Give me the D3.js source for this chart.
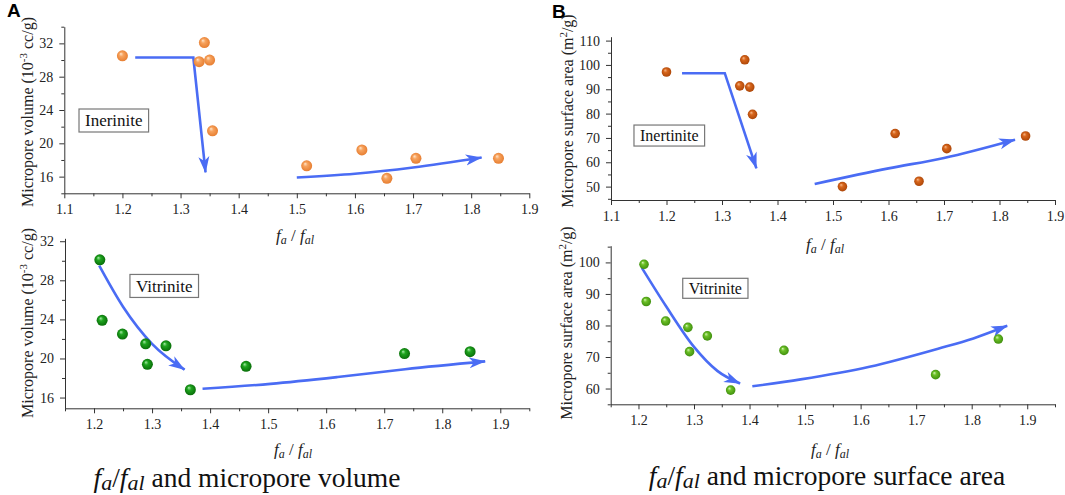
<!DOCTYPE html>
<html>
<head>
<meta charset="utf-8">
<script src="https://cdn.jsdelivr.net/npm/d3@7"></script>
<style>
  body { margin: 0; background: #fff; }
  svg { display: block; }
</style>
</head>
<body>
<script>
// fa/fal of the samples (inertinite rows share one set, vitrinite the other)
const faInertinite = [1.2, 1.341, 1.332, 1.350, 1.355, 1.517, 1.612, 1.655, 1.705, 1.847];
const faVitrinite = [1.21, 1.214, 1.249, 1.289, 1.292, 1.324, 1.366, 1.462, 1.735, 1.848];

// micropore volume, 10^-3 cc/g
const volInertinite = [30.5, 32.1, 29.8, 30.0, 21.5, 17.3, 19.2, 15.8, 18.2, 18.2];
const volVitrinite = [30.1, 23.9, 22.5, 21.5, 19.4, 21.3, 16.8, 19.2, 20.5, 20.7];

// micropore surface area, m2/g
const areaInertinite = [97.1, 102.1, 91.4, 90.9, 79.7, 50.0, 71.8, 52.2, 65.6, 70.8];
const areaVitrinite = [99.4, 87.6, 81.4, 79.4, 71.7, 76.7, 59.5, 72.1, 64.4, 75.7];

// tick labels
const xTicksTop = [1.1, 1.2, 1.3, 1.4, 1.5, 1.6, 1.7, 1.8, 1.9];
const xTicksBottom = [1.2, 1.3, 1.4, 1.5, 1.6, 1.7, 1.8, 1.9];
const volTicks = [16, 20, 24, 28, 32];
const areaTicksTop = [50, 60, 70, 80, 90, 100, 110];
const areaTicksBottom = [60, 70, 80, 90, 100];

// trend arrows, in data units
const arrowVolI1 = [[1.222, 30.3], [1.322, 30.3], [1.343, 16.5]];
const arrowVolI2 = [[1.5, 15.9], [1.6, 16.35], [1.7, 17.1], [1.818, 18.3]];
const arrowAreaI1 = [[1.228, 96.6], [1.305, 96.6], [1.362, 57.5]];
const arrowAreaI2 = [[1.467, 51.1], [1.6, 57.5], [1.7, 61.8], [1.828, 69.3]];
const arrowVolV1 = [[1.209, 29.5], [1.25, 25.3], [1.30, 21.5], [1.356, 18.85]];
const arrowVolV2 = [[1.387, 16.9], [1.504, 17.4], [1.62, 18.1], [1.736, 18.9], [1.874, 19.7]];
const arrowAreaV1 = [[1.206, 98.3], [1.25, 86.0], [1.30, 73.2], [1.342, 65.6], [1.383, 61.6]];
const arrowAreaV2 = [[1.405, 60.7], [1.492, 62.9], [1.616, 66.9], [1.741, 72.7], [1.803, 75.9], [1.864, 79.9]];

const width = 1065;
const height = 495;
const arrowColor = "#4a6cf4";
const axisColor = "#333";
const serif = "'Liberation Serif', 'Times New Roman', serif";

const svg = d3.select("body")
  .append("svg")
  .attr("width", width)
  .attr("height", height)
  .attr("font-family", serif);

const defs = svg.append("defs");

// arrow head
defs.append("marker")
  .attr("id", "head")
  .attr("markerUnits", "userSpaceOnUse")
  .attr("markerWidth", 17)
  .attr("markerHeight", 12)
  .attr("viewBox", "0 0 17 12")
  .attr("refX", 16)
  .attr("refY", 6)
  .attr("orient", "auto")
  .append("path")
  .attr("d", "M0,0.5 L16.5,6 L0,11.5 L4.5,6 Z")
  .attr("fill", arrowColor);

// shaded ball markers
function ballGradient(id, light, mid, dark) {
  const gr = defs.append("radialGradient")
    .attr("id", id)
    .attr("cx", "50%").attr("cy", "50%").attr("r", "55%")
    .attr("fx", "35%").attr("fy", "30%");
  gr.append("stop").attr("offset", "0%").attr("stop-color", light);
  gr.append("stop").attr("offset", "35%").attr("stop-color", mid);
  gr.append("stop").attr("offset", "100%").attr("stop-color", dark);
}
ballGradient("orange", "#ffe6cc", "#f7a35e", "#e57a2c");
ballGradient("rust", "#f6b98a", "#d8661c", "#a84306");
ballGradient("green", "#a8eaa8", "#1fa51f", "#066806");
ballGradient("lime", "#d6f5b8", "#6cc026", "#3b8a0c");

function drawPanel(p) {
  const x = d3.scaleLinear().domain(p.xDomain).range(p.xRange);
  const y = d3.scaleLinear().domain(p.yDomain).range(p.yRange);
  const g = svg.append("g");

  const xMinor = d3.range(p.xDomain[0], p.xDomain[1] + 1e-9, 0.05)
    .filter(v => !p.xTicks.some(t => Math.abs(t - v) < 1e-6));
  const yMinor = d3.range(Math.ceil(p.yDomain[0] / p.yMinor) * p.yMinor, p.yDomain[1] + 1e-9, p.yMinor)
    .filter(v => !p.yTicks.includes(v));

  // minor ticks
  g.append("g")
    .attr("transform", `translate(0,${p.yRange[0]})`)
    .call(d3.axisBottom(x).tickValues(xMinor).tickSize(3).tickSizeOuter(0).tickFormat(""))
    .call(a => a.select(".domain").remove());
  g.append("g")
    .attr("transform", `translate(${p.xRange[0]},0)`)
    .call(d3.axisLeft(y).tickValues(yMinor).tickSize(3).tickSizeOuter(0).tickFormat(""))
    .call(a => a.select(".domain").remove());

  // major axes
  const xAxis = g.append("g")
    .attr("transform", `translate(0,${p.yRange[0]})`)
    .call(d3.axisBottom(x).tickValues(p.xTicks).tickSize(5).tickSizeOuter(0).tickPadding(6).tickFormat(d3.format(".1f")));
  const yAxis = g.append("g")
    .attr("transform", `translate(${p.xRange[0]},0)`)
    .call(d3.axisLeft(y).tickValues(p.yTicks).tickSize(5).tickSizeOuter(0).tickPadding(6).tickFormat(d3.format("d")));

  [xAxis, yAxis].forEach(a => {
    a.attr("font-family", serif).attr("font-size", null);
    a.selectAll("text").attr("font-size", 14).attr("fill", "#222");
  });
  g.selectAll(".domain, .tick line").attr("stroke", axisColor);

  // axis titles
  const xt = g.append("text")
    .attr("x", p.xTitle[0])
    .attr("y", p.xTitle[1])
    .attr("text-anchor", "middle")
    .attr("font-size", 17)
    .attr("fill", "#222")
    .attr("font-style", "italic");
  xt.append("tspan").text("f");
  xt.append("tspan").attr("font-size", 12).attr("dy", 3).text("a");
  xt.append("tspan").attr("dy", -3).attr("font-style", "normal").text(" / ");
  xt.append("tspan").text("f");
  xt.append("tspan").attr("font-size", 12).attr("dy", 3).text("al");

  const yt = g.append("text")
    .attr("transform", `translate(${p.yTitle[0]},${p.yTitle[1]}) rotate(-90)`)
    .attr("text-anchor", "middle")
    .attr("font-size", 16)
    .attr("fill", "#222");
  yt.append("tspan").text(p.yLabel[0]);
  yt.append("tspan").attr("font-size", 11).attr("dy", -6).text(p.yLabel[1]);
  yt.append("tspan").attr("dy", 6).text(p.yLabel[2]);

  // arrows
  p.arrows.forEach(a => {
    const line = d3.line()
      .x(d => x(d[0]))
      .y(d => y(d[1]))
      .curve(a.curved ? d3.curveMonotoneX : d3.curveLinear);
    g.append("path")
      .attr("d", line(a.pts))
      .attr("fill", "none")
      .attr("stroke", arrowColor)
      .attr("stroke-width", 2.6)
      .attr("marker-end", "url(#head)");
  });

  // points
  g.selectAll("circle.pt")
    .data(p.fa.map((f, i) => [f, p.vals[i]]))
    .enter()
    .append("circle")
    .attr("class", "pt")
    .attr("cx", d => x(d[0]))
    .attr("cy", d => y(d[1]))
    .attr("r", p.r)
    .attr("fill", `url(#${p.ball})`);

  // maceral label box
  const bx = x(p.box.x), by = y(p.box.y);
  const boxRect = g.append("rect");
  const bt = g.append("text")
    .attr("x", bx + p.box.pad)
    .attr("y", by + p.box.h / 2)
    .attr("dy", "0.35em")
    .attr("font-size", p.box.size)
    .attr("fill", "#111")
    .text(p.box.text);
  const tw = bt.node().getComputedTextLength();
  boxRect
    .attr("x", bx)
    .attr("y", by)
    .attr("width", tw + 2 * p.box.pad)
    .attr("height", p.box.h)
    .attr("fill", "#fff")
    .attr("stroke", "#777")
    .attr("stroke-width", 1.2);
}

drawPanel({
  xDomain: [1.1, 1.9], xRange: [64.3, 529.3],
  yDomain: [14, 34], yRange: [193.3, 26.7],
  xTicks: xTicksTop, yTicks: volTicks, yMinor: 2,
  fa: faInertinite, vals: volInertinite, ball: "orange", r: 5.5,
  arrows: [{ pts: arrowVolI1, curved: false }, { pts: arrowVolI2, curved: true }],
  box: { text: "Inerinite", x: 1.1253, y: 24.12, h: 23, pad: 6, size: 17 },
  xTitle: [295, 241], yTitle: [33, 112],
  yLabel: ["Micropore volume (10", "-3", " cc/g)"]
});

drawPanel({
  xDomain: [1.1, 1.9], xRange: [611, 1055],
  yDomain: [44.5, 111.6], yRange: [200, 36.7],
  xTicks: xTicksTop, yTicks: areaTicksTop, yMinor: 5,
  fa: faInertinite, vals: areaInertinite, ball: "rust", r: 4.8,
  arrows: [{ pts: arrowAreaI1, curved: false }, { pts: arrowAreaI2, curved: true }],
  box: { text: "Inertinite", x: 1.1414, y: 75.3, h: 21, pad: 6, size: 16 },
  xTitle: [825, 250], yTitle: [573, 111],
  yLabel: ["Micropore surface area (m", "2", "/g)"]
});

drawPanel({
  xDomain: [1.15, 1.95], xRange: [65, 529.3],
  yDomain: [14.9, 32.3], yRange: [408.3, 238.3],
  xTicks: xTicksBottom, yTicks: volTicks, yMinor: 2,
  fa: faVitrinite, vals: volVitrinite, ball: "green", r: 5.5,
  arrows: [{ pts: arrowVolV1, curved: true }, { pts: arrowVolV2, curved: true }],
  box: { text: "Vitrinite", x: 1.2619, y: 28.6, h: 23, pad: 6, size: 17 },
  xTitle: [293, 455], yTitle: [33, 323],
  yLabel: ["Micropore volume (10", "-3", " cc/g)"]
});

drawPanel({
  xDomain: [1.15, 1.95], xRange: [610.7, 1055],
  yDomain: [55, 105.3], yRange: [404.3, 245.7],
  xTicks: xTicksBottom, yTicks: areaTicksBottom, yMinor: 5,
  fa: faVitrinite, vals: areaVitrinite, ball: "lime", r: 4.8,
  arrows: [{ pts: arrowAreaV1, curved: true }, { pts: arrowAreaV2, curved: true }],
  box: { text: "Vitrinite", x: 1.2797, y: 94.96, h: 20, pad: 6, size: 16 },
  xTitle: [830, 455], yTitle: [572, 323],
  yLabel: ["Micropore surface area (m", "2", "/g)"]
});

// panel letters
svg.append("text").attr("x", 7).attr("y", 17)
  .attr("font-family", "'Liberation Sans', Arial, sans-serif")
  .attr("font-weight", "bold").attr("font-size", 19).text("A");
svg.append("text").attr("x", 552).attr("y", 18)
  .attr("font-family", "'Liberation Sans', Arial, sans-serif")
  .attr("font-weight", "bold").attr("font-size", 19).text("B");

// captions under each column
function caption(cx, cy, rest) {
  const t = svg.append("text")
    .attr("x", cx).attr("y", cy)
    .attr("text-anchor", "middle")
    .attr("font-family", serif)
    .attr("font-size", 27.5)
    .attr("fill", "#111");
  t.append("tspan").attr("font-style", "italic").text("f");
  t.append("tspan").attr("font-style", "italic").attr("font-size", 22).attr("dy", 3).text("a");
  t.append("tspan").attr("dy", -3).text("/");
  t.append("tspan").attr("font-style", "italic").text("f");
  t.append("tspan").attr("font-style", "italic").attr("font-size", 22).attr("dy", 3).text("al");
  t.append("tspan").attr("dy", -3).text(rest);
}
caption(247, 487, " and micropore volume");
caption(827, 485, " and micropore surface area");
</script>
</body>
</html>
